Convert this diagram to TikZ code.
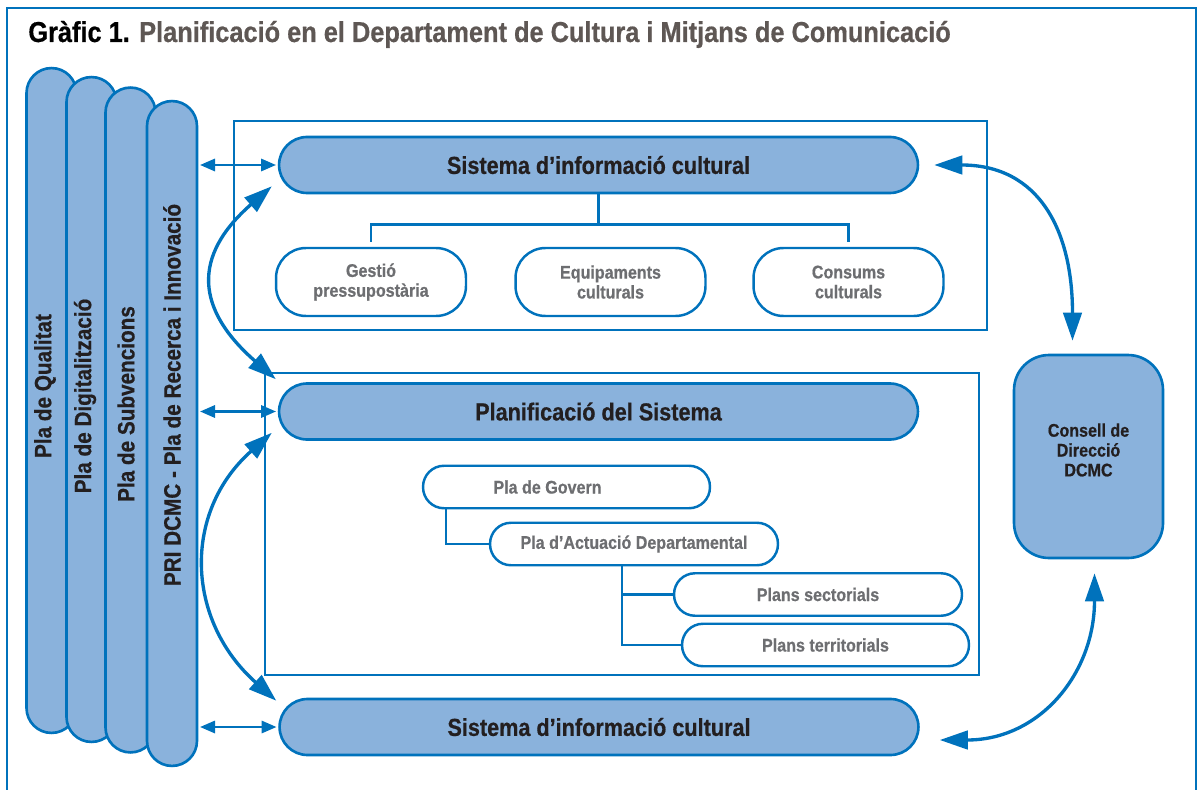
\documentclass[tikz,border=0pt]{standalone}
\usepackage{fontspec}
\setmainfont[FakeStretch=0.88, BoldFeatures={FakeBold=0.6}]{Liberation Sans}
\usetikzlibrary{arrows.meta}

\definecolor{dblue}{RGB}{0,114,188}
\definecolor{lblue}{RGB}{138,178,220}
\definecolor{ink}{RGB}{35,31,32}
\definecolor{greytext}{RGB}{109,110,113}
\definecolor{titlegrey}{RGB}{94,87,84}

\tikzset{
  frame/.style={draw=dblue, line width=1.1pt},
  box/.style={draw=dblue, line width=1.3pt},
  sidepill/.style={draw=dblue, fill=lblue, line width=1.5pt, rounded corners=0.5cm,
    minimum width=1cm, minimum height=13.3cm, inner sep=0pt},
  sidetext/.style={rotate=90, text=ink, inner sep=0pt,
    font=\fontsize{13.4}{15}\selectfont\bfseries},
  bigpill/.style={draw=dblue, fill=lblue, line width=1.5pt, rounded corners=0.56cm,
    minimum width=12.78cm, minimum height=1.12cm, inner sep=0pt, text=ink,
    font=\fontsize{14}{16}\selectfont\bfseries},
  smallpill/.style={draw=dblue, fill=white, line width=1.4pt, rounded corners=0.6cm,
    minimum width=3.8cm, minimum height=1.36cm, inner sep=0pt, align=center,
    text=greytext, font=\fontsize{10.4}{11.3}\selectfont\bfseries},
  subpill/.style={draw=dblue, fill=white, line width=1.4pt, rounded corners=0.42cm,
    minimum height=0.85cm, inner sep=0pt, text=greytext,
    font=\fontsize{10.4}{11.3}\selectfont\bfseries},
  conbox/.style={draw=dblue, fill=lblue, line width=1.5pt, rounded corners=0.7cm,
    minimum width=2.98cm, minimum height=4.06cm, inner sep=0pt},
  context/.style={align=center, inner sep=0pt, text=ink,
    font=\fontsize{10.4}{11.3}\selectfont\bfseries},
  link/.style={draw=dblue, line width=1.3pt},
  smallarr/.style={draw=dblue, line width=1.3pt,
    {Triangle[length=8.5pt,width=7pt]}-{Triangle[length=8.5pt,width=7pt]},
    shorten <=1pt, shorten >=1pt},
  bigarr/.style={draw=dblue, line width=1.9pt,
    {Triangle[length=16pt,width=10.5pt]}-{Triangle[length=16pt,width=10.5pt]}}
}

\begin{document}
\begin{tikzpicture}[x=0.02cm, y=-0.02cm]
\useasboundingbox (0,0) rectangle (1202,790);
\draw[frame] (7,790) -- (7,8) -- (1196,8) -- (1196,790);
\node[anchor=base west, inner sep=0pt, text=titlegrey,
  font=\fontsize{16.4}{19}\selectfont\bfseries] (title) at (28,42)
  {{\color{black}Gràfic 1.} Planificació en el Departament de Cultura i Mitjans de Comunicació};

% plans transversals
\node[sidepill] (qualitat) at (51.5,400.5) {};
\node[sidepill] (digital) at (91.5,409.5) {};
\node[sidepill] (subvencions) at (130.5,420) {};
\node[sidepill] (recerca) at (172,433.5) {};
\node[sidetext] (qualitatlbl) at (45,386) {Pla de Qualitat};
\node[sidetext] (digitallbl) at (85,396) {Pla de Digitalització};
\node[sidetext] (subvencionslbl) at (126,404) {Pla de Subvencions};
\node[sidetext] (recercalbl) at (172,395) {PRI DCMC - Pla de Recerca i Innovació};

% blocs
\draw[box] (234,121) rectangle (987,330);
\draw[box] (265,373) rectangle (979,675);

\node[bigpill] (sisinfo) at (598.5,165) {Sistema d’informació cultural};
\node[smallpill] (gestio) at (371,282) {Gestió\\pressupostària};
\node[smallpill] (equip) at (610.5,282) {Equipaments\\culturals};
\node[smallpill] (consums) at (848.5,282) {Consums\\culturals};
\draw[link] (sisinfo.south) -- ++(0,31);
\draw[link] ([yshift=3pt]gestio.north) -- ++(0,-17) -| ([yshift=3pt]consums.north);

\node[bigpill] (planif) at (598.5,411.5) {Planificació del Sistema};
\node[subpill, minimum width=5.74cm] (govern) at (566.5,487) {Pla de Govern\hspace*{0.76cm}};
\node[subpill, minimum width=5.76cm] (actuacio) at (634,544) {Pla d’Actuació Departamental};
\node[subpill, minimum width=5.76cm] (sectorials) at (818,594.5) {Plans sectorials};
\node[subpill, minimum width=5.74cm] (territorials) at (825.5,645) {Plans territorials};
\draw[link] ([shift={(24,0)}]govern.south west) |- (actuacio.west);
\draw[link] ([shift={(133,0)}]actuacio.south west) |- (territorials.west);
\draw[link] (sectorials.west) -| ([shift={(133,0)}]actuacio.south west);

\node[bigpill] (sisinfob) at (599,727) {Sistema d’informació cultural};

\node[conbox] (consell) at (1088.5,456.5) {};
\node[context] (conselllbl) at (1088.5,450) {Consell de\\Direcció\\DCMC};

% fletxes
\foreach \n in {sisinfo,planif,sisinfob}
  \draw[smallarr] (recerca.east |- \n.west) -- (\n.west);
\draw[bigarr] ([shift={(-6,-8)}]sisinfo.south west) .. controls +(-80,70) and +(-80,-70) .. ([shift={(-2,-3)}]planif.north west);
\draw[bigarr] ([shift={(-6,-8)}]planif.south west) .. controls +(-90,80) and +(-90,-80) .. ([shift={(-2,3)}]sisinfob.north west);
\draw[bigarr] ([shift={(15,0)}]sisinfo.east) .. controls +(105,0) and +(0,-110) .. ([shift={(-16,-13)}]consell.north);
\draw[bigarr] ([shift={(20,13)}]sisinfob.east) .. controls +(100,0) and +(0,100) .. ([shift={(6,14)}]consell.south);
\end{tikzpicture}
\end{document}
